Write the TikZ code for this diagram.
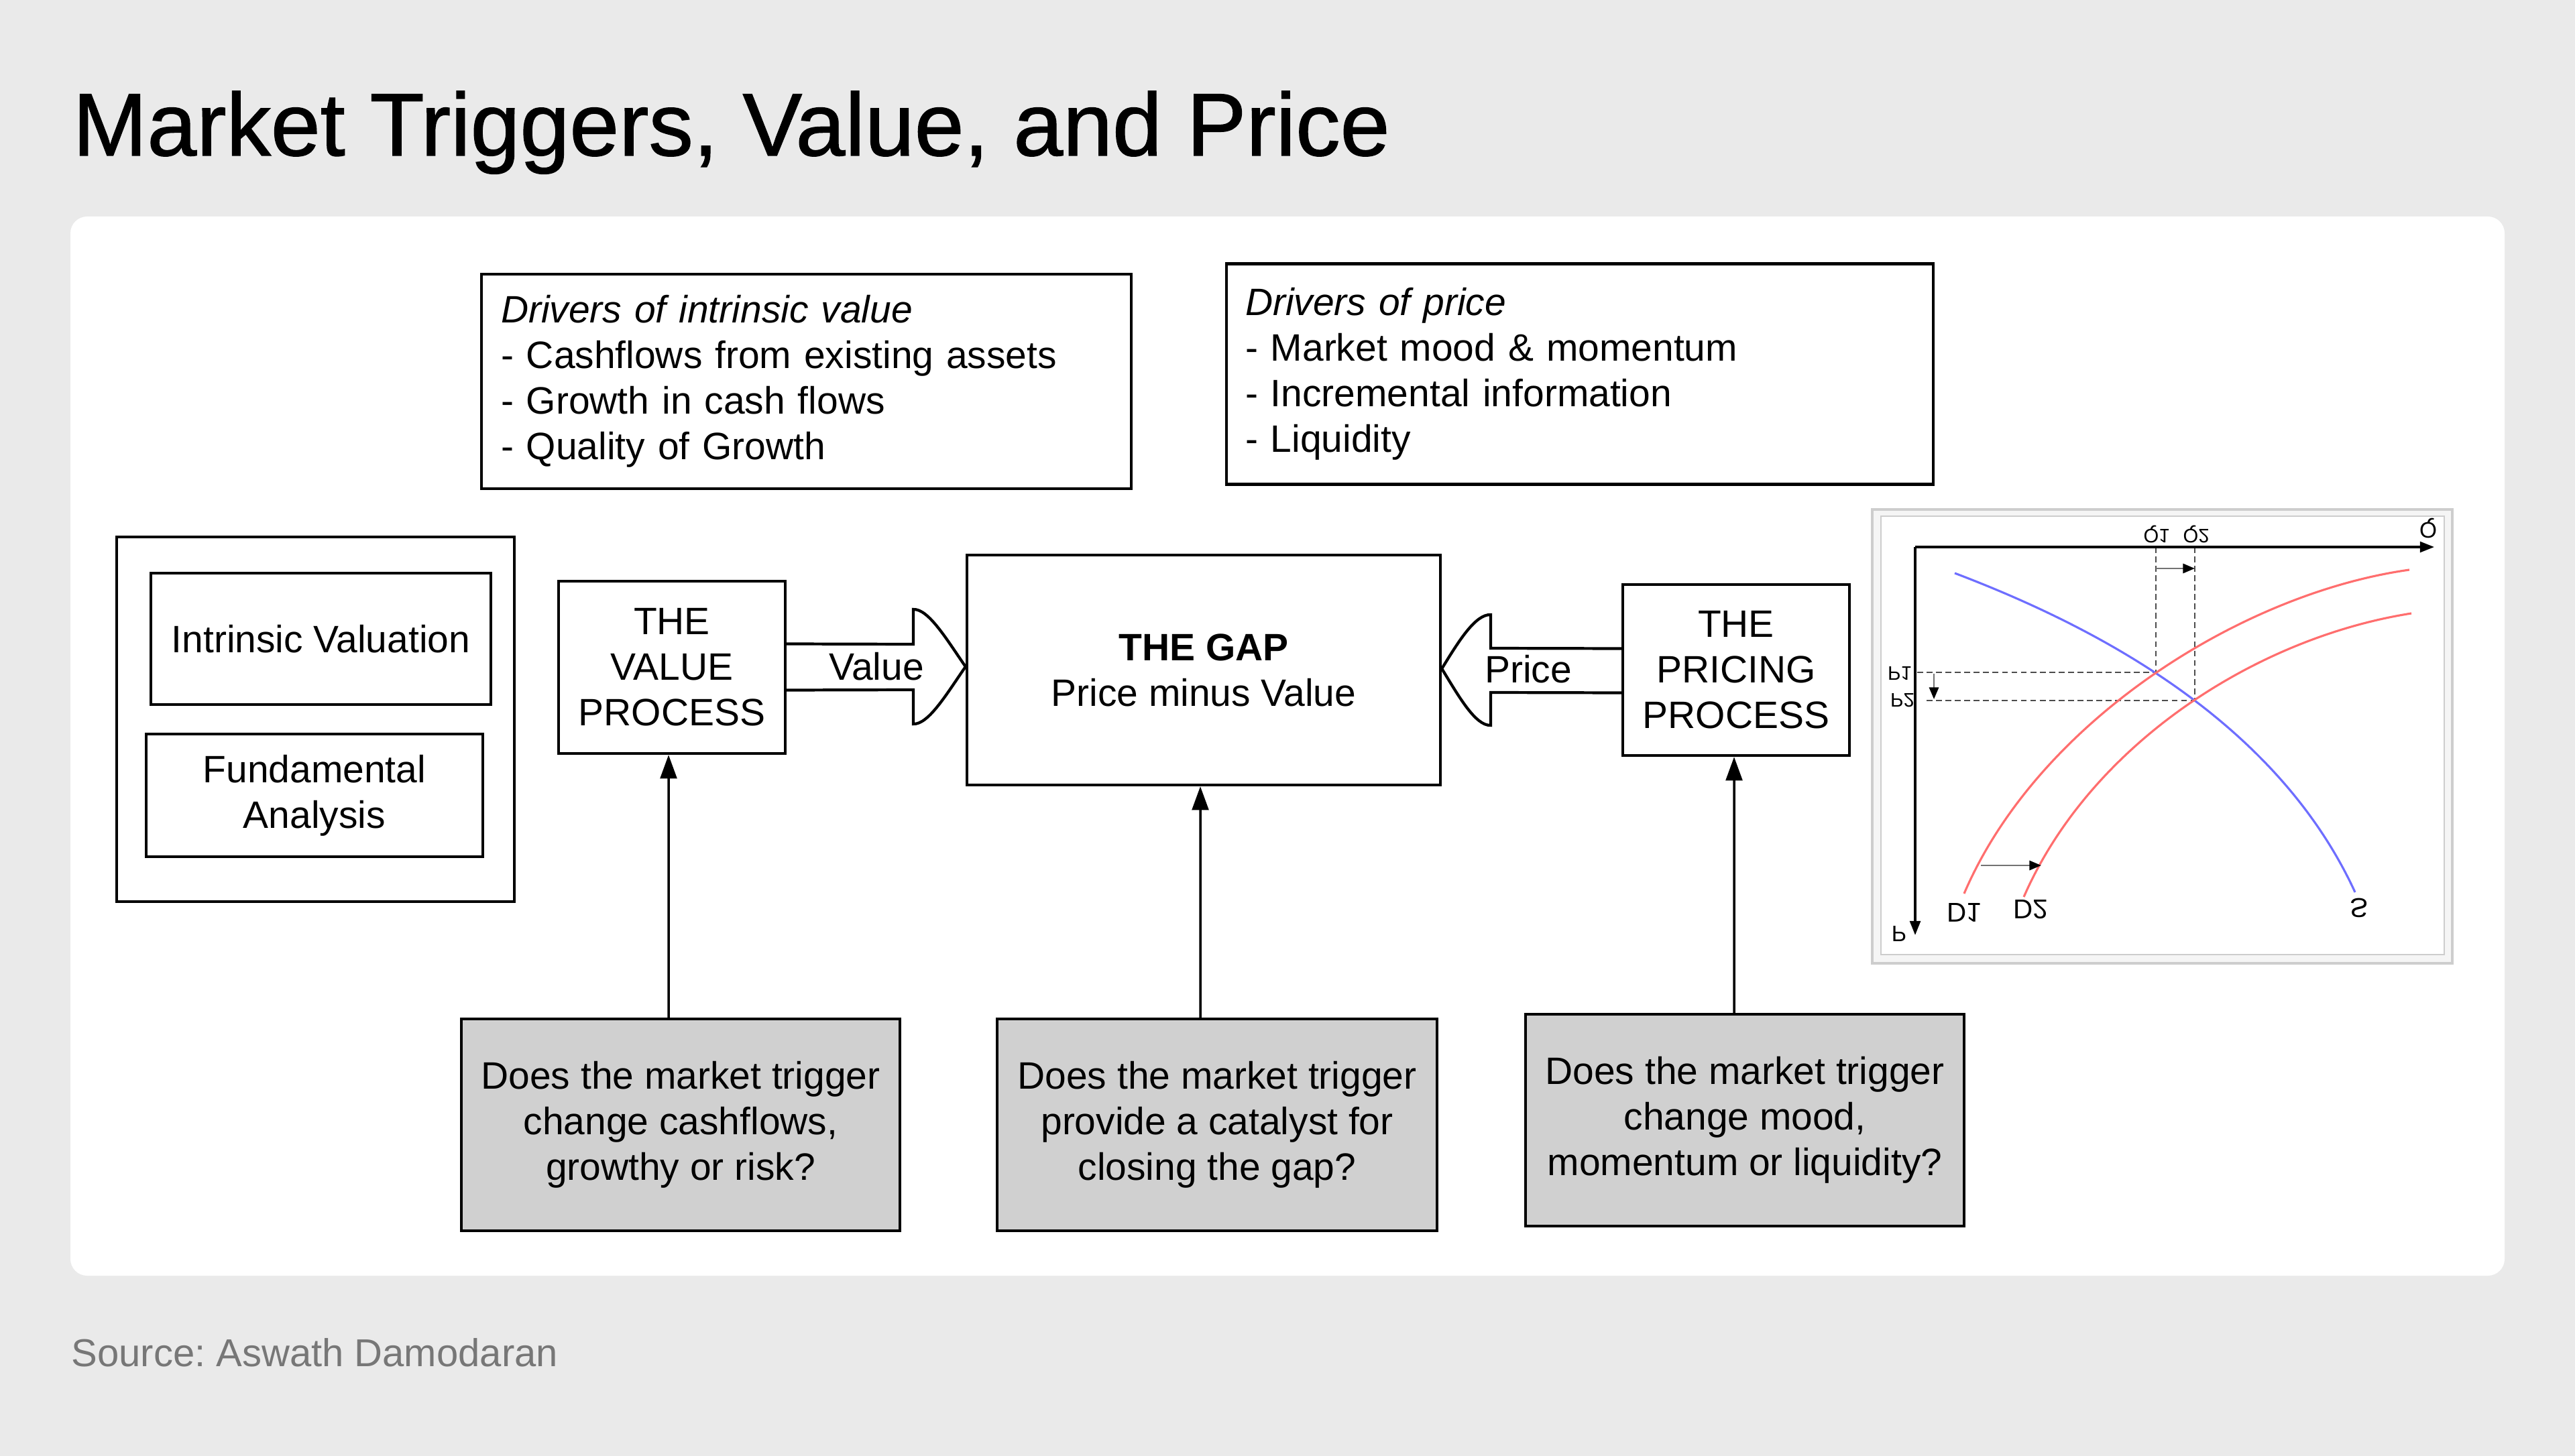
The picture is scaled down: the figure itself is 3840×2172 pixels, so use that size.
\documentclass[tikz,border=0pt]{standalone}
\usepackage{fontspec}
\setmainfont{Liberation Sans}
\newfontfamily\titlefont[FakeBold=1]{Liberation Sans}
\usetikzlibrary{arrows.meta,calc}
\definecolor{bgc}{HTML}{EAEAEA}
\definecolor{qgrey}{HTML}{D0D0D0}
\definecolor{srcgrey}{HTML}{777777}
\definecolor{sblue}{HTML}{6E6EFF}
\definecolor{dred}{HTML}{FF6E6E}
\definecolor{framec}{HTML}{CDCDCD}
\newcommand{\bodyfs}{\fontsize{16.2}{19.3}\selectfont}
\frenchspacing
\begin{document}
\begin{tikzpicture}[x=0.1mm,y=-0.1mm,
  box/.style={draw=black, line width=1.2pt, fill=white, inner sep=0pt, align=center, font=\bodyfs},
  qbox/.style={box, fill=qgrey},
  lbox/.style={box, align=left, inner xsep=2.9mm},
  shaft/.style={draw=black, line width=1.2pt, line join=miter},
  varrow/.style={draw=black, line width=1pt, -{Triangle[length=10pt,width=7pt]}},
  axis/.style={draw=black, line width=0.9pt, -{Triangle[length=6pt,width=4.5pt]}},
  dline/.style={draw=black!70, line width=0.45pt, dash pattern=on 2.5pt off 1.5pt},
  sarrow/.style={draw=black!55, line width=0.8pt, -{Triangle[length=5pt,width=4pt,color=black]}},
  curveS/.style={draw=sblue, line width=0.9pt},
  curveD/.style={draw=dred, line width=0.9pt},
  glabA/.style={yscale=-1, inner sep=0pt, font=\fontsize{11.5}{12}\selectfont},
  glabB/.style={yscale=-1, inner sep=0pt, font=\fontsize{9.5}{10}\selectfont},
  glabC/.style={yscale=-1, inner sep=0pt, font=\fontsize{8.3}{9}\selectfont}
]
\useasboundingbox (0,0) rectangle (3840,2172);
\fill[bgc] (0,0) rectangle (3840,2172);
\fill[white, rounded corners=2.5mm] (105,323) rectangle (3735,1903);

\node[anchor=base west, inner sep=0pt, font=\titlefont\fontsize{37.8}{40}\selectfont] (title) at (108,232) {Market Triggers, Value, and Price};
\node[anchor=base west, inner sep=0pt, text=srcgrey, font=\fontsize{16.5}{19}\selectfont] (src) at (106,2038) {Source: Aswath Damodaran};

% driver boxes
\node[lbox, text width=91.1mm, minimum height=32mm] (div) at (1202.5,569) {\textit{Drivers of intrinsic value}\\- Cashflows from existing assets\\- Growth in cash flows\\- Quality of Growth};
\node[lbox, inner xsep=2.8mm, text width=99.8mm, minimum height=32.9mm] (dp) at (2356,558) {\textit{Drivers of price}\\- Market mood \& momentum\\- Incremental information\\- Liquidity};

% left boxes
\node[box, minimum width=59.3mm, minimum height=54.4mm] (outer) at (470.5,1073) {};
\node[box, minimum width=50.7mm, minimum height=19.6mm] (iv) at (478.5,953) {Intrinsic Valuation};
\node[box, minimum width=50.2mm, minimum height=18.3mm] (fa) at (469,1186.5) {Fundamental\\Analysis};

% process boxes
\node[box, minimum width=33.8mm, minimum height=25.7mm] (vp) at (1002,995.5) {THE\\VALUE\\PROCESS};
\node[box, minimum width=70.6mm, minimum height=34.3mm] (gap) at (1795,999.5) {\textbf{THE GAP}\\Price minus Value};
\node[box, minimum width=33.8mm, minimum height=25.5mm] (pp) at (2589,999.5) {THE\\PRICING\\PROCESS};

% question boxes
\node[qbox, minimum width=65.4mm, minimum height=31.6mm] (b1) at (1015,1678) {Does the market trigger\\change cashflows,\\growthy or risk?};
\node[qbox, minimum width=65.6mm, minimum height=31.6mm] (b2) at (1815,1678) {Does the market trigger\\provide a catalyst for\\closing the gap?};
\node[qbox, minimum width=65.4mm, minimum height=31.6mm] (b3) at (2602,1671) {Does the market trigger\\change mood,\\momentum or liquidity?};

% block arrows
\draw[shaft] ([yshift=3.5mm]vp.east) -- (1362,961) -- (1362,909)
  .. controls (1385,908) and (1413,956) .. ([yshift=0.5mm]gap.west)
  .. controls (1413,1033) and (1385,1081) .. (1362,1080) -- (1362,1029) -- ([yshift=-3.4mm]vp.east);
\node[inner sep=0pt, font=\bodyfs] (vlab) at (1307,994) {Value};

\draw[shaft] ([yshift=3.2mm]pp.west) -- (2223,967) -- (2223,917)
  .. controls (2200,916) and (2175,957) .. ([yshift=0.2mm]gap.east)
  .. controls (2175,1038) and (2200,1083) .. (2223,1082) -- (2223,1033) -- ([yshift=-3.4mm]pp.west);
\node[inner sep=0pt, font=\bodyfs] (plab) at (2279,998) {Price};

% vertical arrows
\draw[varrow] ([xshift=-1.8mm]b1.north) -- ([xshift=-0.5mm]vp.south);
\draw[varrow] ([xshift=-2.5mm]b2.north) -- ([xshift=-0.5mm]gap.south);
\draw[varrow] ([xshift=-1.6mm]b3.north) -- ([xshift=-0.3mm]pp.south);

% graph panel (flipped supply/demand chart)
\draw[framec, line width=1pt, fill=black!4] (2792,760) rectangle (3657,1437);
\draw[framec, line width=0.8pt, fill=white] (2805,770) rectangle (3645,1424);

\draw[dline] (3215,816) -- (3215,1003);
\draw[dline] (3273,816) -- (3273,1045);
\draw[dline] (2859,1003) -- (3215,1003);
\draw[dline] (2873,1045) -- (3273,1045);

\draw[curveS] (2915,855) .. controls (3115,931) and (3392,1070) .. (3512,1331);
\draw[curveD] (2929,1333) .. controls (3039,1076) and (3343,885) .. (3593,850);
\draw[curveD] (3018,1338) .. controls (3118,1109) and (3366,951) .. (3596,915);

\draw[axis] (2856,816) -- (3630,816);
\draw[axis] (2856,816) -- (2856,1395);

\draw[sarrow] (3215,848) -- (3273,848);
\draw[sarrow] (2884,1005) -- (2884,1043);
\draw[sarrow] (2954,1291) -- (3044,1291);

\node[glabA] (lD1) at (2929,1361) {D1};
\node[glabA] (lD2) at (3028,1357) {D2};
\node[glabA] (lS) at (3518,1354) {S};
\node[glabB] (lP) at (2832,1393) {P};
\node[glabB] (lQ) at (3621,788) {Q};
\node[glabC] (lQ1) at (3216,797) {Q1};
\node[glabC] (lQ2) at (3275,797) {Q2};
\node[glabC] (lP1) at (2833,1005) {P1};
\node[glabC] (lP2) at (2837,1045) {P2};
\end{tikzpicture}
\end{document}
